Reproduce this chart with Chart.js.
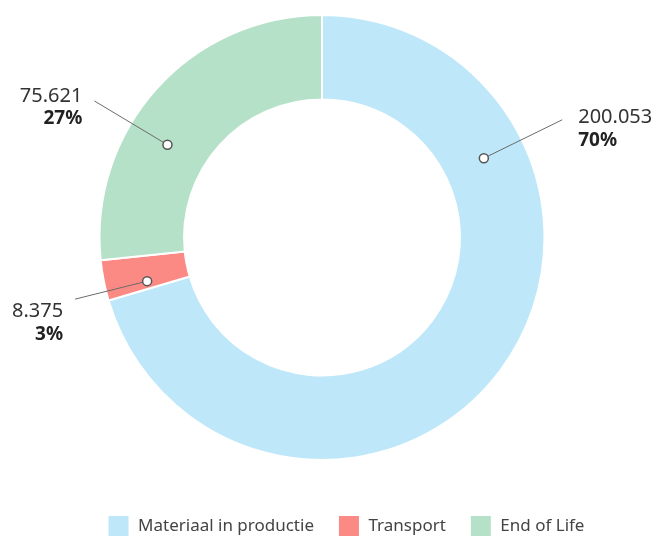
<!DOCTYPE html>
<html>
<head>
<meta charset="utf-8">
<script src="https://cdn.jsdelivr.net/npm/chart.js@4.4.1/dist/chart.umd.min.js"></script>
<style>
    html, body { margin: 0; padding: 0; background: #ffffff; }
    #wrap { width: 666px; height: 547px; }
</style>
</head>
<body>
<div id="wrap"><canvas id="donutChart"></canvas></div>
<script>
// data
const categories = ['Materiaal in productie', 'Transport', 'End of Life'];
const values = [200053, 8375, 75621];
const colors = ['#bee8fa', '#fc8a84', '#b4e1c7'];

// where the callout sits on each slice (fraction along the arc, line length past the ring, text nudge)
const calloutFrac = [0.252, 0.23, 0.384];
const calloutReach = [45, 32, 43];
const calloutDy = [-2, 12, -5];

const total = values.reduce((a, b) => a + b, 0);

function fmtNumber(v) {
    return String(v).replace(/\B(?=(\d{3})+(?!\d))/g, '.');
}

// callouts: marker dot, radial leader line, value + percentage
const calloutPlugin = {
    id: 'callouts',
    afterDatasetsDraw(chart) {
        const ctx = chart.ctx;
        const meta = chart.getDatasetMeta(0);
        meta.data.forEach((arc, i) => {
            const p = arc.getProps(['x', 'y', 'startAngle', 'endAngle', 'innerRadius', 'outerRadius'], true);
            const ang = p.startAngle + (p.endAngle - p.startAngle) * calloutFrac[i];
            const midR = (p.innerRadius + p.outerRadius) / 2;
            const endR = p.outerRadius + calloutReach[i];
            const mx = p.x + Math.cos(ang) * midR;
            const my = p.y + Math.sin(ang) * midR;
            const ex = p.x + Math.cos(ang) * endR;
            const ey = p.y + Math.sin(ang) * endR;

            ctx.save();
            ctx.strokeStyle = '#6b6b6b';
            ctx.lineWidth = 1;
            ctx.beginPath();
            ctx.moveTo(mx, my);
            ctx.lineTo(ex, ey);
            ctx.stroke();

            ctx.beginPath();
            ctx.arc(mx, my, 4.5, 0, Math.PI * 2);
            ctx.fillStyle = '#ffffff';
            ctx.fill();
            ctx.strokeStyle = '#555555';
            ctx.lineWidth = 1.5;
            ctx.stroke();

            const right = ex > p.x;
            const tx = right ? ex + 16 : ex - 12;
            const ty = ey + calloutDy[i];
            ctx.textAlign = right ? 'left' : 'right';
            ctx.textBaseline = 'middle';
            ctx.fillStyle = '#333333';
            ctx.font = '20px "Noto Sans", sans-serif';
            ctx.fillText(fmtNumber(values[i]), tx, ty);
            ctx.fillStyle = '#222222';
            ctx.font = 'bold 19px "Noto Sans", sans-serif';
            ctx.fillText(Math.round(values[i] / total * 100) + '%', tx, ty + 23);
            ctx.restore();
        });
    }
};

// push the legend down to the bottom edge, leaving the gap below the ring
const legendGap = 30;
const legendShift = {
    id: 'legendShift',
    afterLayout(chart) {
        const lg = chart.legend;
        if (!lg) return;
        lg.top += legendGap;
        lg.bottom += legendGap;
        lg.left += 24;
        lg.right += 24;
    }
};

const ctx = document.getElementById('donutChart').getContext('2d');
new Chart(ctx, {
    type: 'doughnut',
    data: {
        labels: categories,
        datasets: [
            {
                data: values,
                backgroundColor: colors,
                borderColor: '#ffffff',
                borderWidth: 2,
                hoverOffset: 0
            }
        ]
    },
    options: {
        responsive: true,
        maintainAspectRatio: false,
        animation: false,
        cutout: '62%',
        layout: {
            padding: { top: 14, bottom: legendGap, left: 0, right: 22 }
        },
        plugins: {
            legend: {
                position: 'bottom',
                labels: {
                    boxWidth: 22,
                    boxHeight: 22,
                    padding: 24,
                    color: '#444444',
                    font: { family: '"Noto Sans", sans-serif', size: 17 }
                }
            },
            tooltip: { enabled: false }
        }
    },
    plugins: [calloutPlugin, legendShift]
});
</script>
</body>
</html>
